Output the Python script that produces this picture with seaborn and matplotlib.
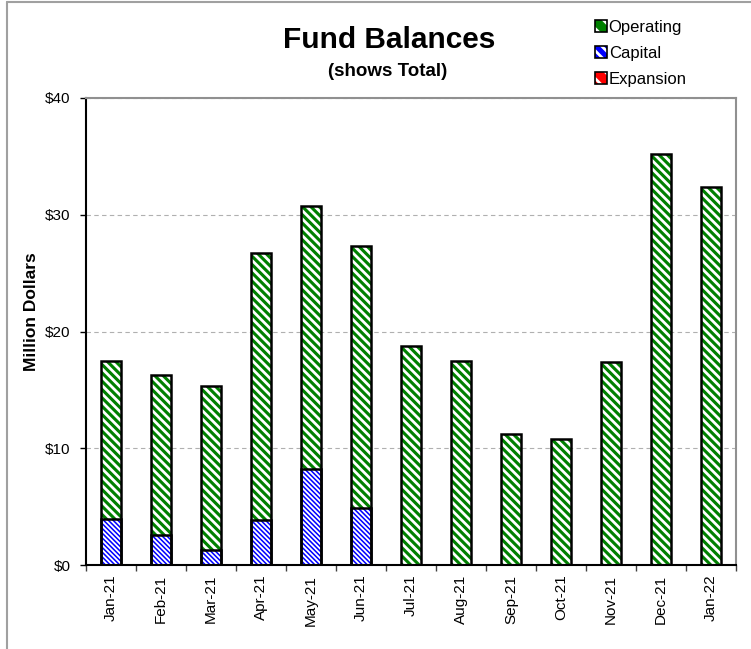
import numpy as np
import pandas as pd
import matplotlib
matplotlib.use("Agg")
import matplotlib.pyplot as plt
import matplotlib.patches as mpatches
from matplotlib.lines import Line2D
import seaborn as sns

# values (million dollars)
months = ["Jan-21", "Feb-21", "Mar-21", "Apr-21", "May-21", "Jun-21", "Jul-21",
          "Aug-21", "Sep-21", "Oct-21", "Nov-21", "Dec-21", "Jan-22"]
operating = [13.6, 13.7, 14.0, 22.9, 22.5, 22.4, 18.75, 17.5, 11.2, 10.8, 17.4, 35.2, 32.4]
capital = [3.9, 2.6, 1.3, 3.85, 8.25, 4.9, 0, 0, 0, 0, 0, 0, 0]
expansion = [0, 0, 0, 0, 0, 0, 0, 0, 0, 0, 0, 0, 0]
yticks = [0, 10, 20, 30, 40]

df = pd.DataFrame({"month": months, "Operating": operating,
                   "Capital": capital, "Expansion": expansion})
df["cap_exp"] = df["Capital"] + df["Expansion"]
df["total"] = df["Operating"] + df["cap_exp"]

sns.set_style("white")
plt.rcParams["font.family"] = ["Liberation Sans", "DejaVu Sans"]
plt.rcParams["hatch.linewidth"] = 2.0
for key in ["text.color", "axes.labelcolor", "xtick.labelcolor", "ytick.labelcolor"]:
    plt.rcParams[key] = "black"

green = "#008000"
blue = "#0000ff"
red = "#ff0000"
hatch_op = "\\" * 4
hatch_cap = "\\" * 7


def stripe(p, h, lw):
    p.set_edgecolor("white")
    p.set_linewidth(0)
    p.set_hatch(h)
    if hasattr(p, "set_hatch_linewidth"):
        p.set_hatch_linewidth(lw)


fig = plt.figure(figsize=(7.51, 6.49), dpi=100)
ax = fig.add_axes([86 / 751, 1 - 565 / 649, 650 / 751, 467 / 649])

# stacked bars: totals first, capital drawn over the bottom part
sns.barplot(data=df, x="month", y="total", color=green, width=0.4,
            saturation=1, ax=ax)
n_green = len(ax.patches)
sns.barplot(data=df, x="month", y="cap_exp", color=blue, width=0.4,
            saturation=1, ax=ax)
for i, p in enumerate(ax.patches):
    if i < n_green:
        stripe(p, hatch_op, 2.0)
    else:
        stripe(p, hatch_cap, 1.3)

# black outlines
sns.barplot(data=df, x="month", y="total", color="black", fill=False,
            width=0.4, linewidth=1.8, ax=ax)
sns.barplot(data=df[df["cap_exp"] > 0], x="month", y="cap_exp", order=months,
            color="black", fill=False, width=0.4, linewidth=1.8, ax=ax)

ax.set_ylim(0, 40)
ax.set_xlim(-0.5, len(months) - 0.5)
ax.set_yticks(yticks)
ax.set_yticklabels([f"${v}" for v in yticks], fontsize=11)
ax.set_xticks(range(len(months)))
ax.set_xticklabels(months, rotation=90, fontsize=11)
ax.set_xticks(np.arange(-0.5, len(months), 1), minor=True)
ax.tick_params(axis="x", which="major", length=0, pad=7)
ax.tick_params(axis="x", which="minor", length=4, width=1, color="#404040",
               direction="out", bottom=True)
ax.tick_params(axis="y", length=4, width=1, color="black", direction="out",
               pad=7, left=True)
ax.yaxis.grid(True, linestyle=(0, (4, 3)), color="#b0b0b0", linewidth=0.8)
ax.set_axisbelow(True)

ax.set_xlabel("")
ax.set_ylabel("Million Dollars", fontsize=12.5, fontweight="bold")
ax.yaxis.set_label_coords(-0.073, 0.543)

for side in ["left", "bottom"]:
    ax.spines[side].set_color("black")
    ax.spines[side].set_linewidth(1.5)
for side in ["top", "right"]:
    ax.spines[side].set_color("#909090")
    ax.spines[side].set_linewidth(1.5)
    ax.spines[side].set_visible(True)

fig.text(389 / 751, 1 - 40 / 649, "Fund Balances", fontsize=21.5,
         fontweight="bold", ha="center", va="center")
fig.text(388 / 751, 1 - 71 / 649, "(shows Total)", fontsize=13.5,
         fontweight="bold", ha="center", va="center")

# legend: hatched square with black outline
handles = []
for col, h in [(green, "\\\\"), (blue, "\\\\\\"), (red, "\\\\")]:
    fillp = mpatches.Patch(facecolor=col, edgecolor="white", hatch=h, linewidth=0)
    edge = mpatches.Patch(facecolor="none", edgecolor="black", linewidth=1.2)
    handles.append((fillp, edge))
fig.legend(handles, ["Operating", "Capital", "Expansion"],
           loc="upper left", bbox_to_anchor=(587 / 751, 1 - 11.5 / 649),
           frameon=False, fontsize=12, handlelength=0.7, handleheight=0.7,
           handletextpad=0.1, labelspacing=0.66, borderpad=0)

# outer chart border (only top and left visible)
fig.add_artist(Line2D([7 / 751, 7 / 751], [0, 1 - 2 / 649],
                      transform=fig.transFigure, color="#a0a0a0", linewidth=1.5))
fig.add_artist(Line2D([7 / 751, 1], [1 - 2 / 649, 1 - 2 / 649],
                      transform=fig.transFigure, color="#a0a0a0", linewidth=1.5))

fig.savefig("out.png", dpi=100)
